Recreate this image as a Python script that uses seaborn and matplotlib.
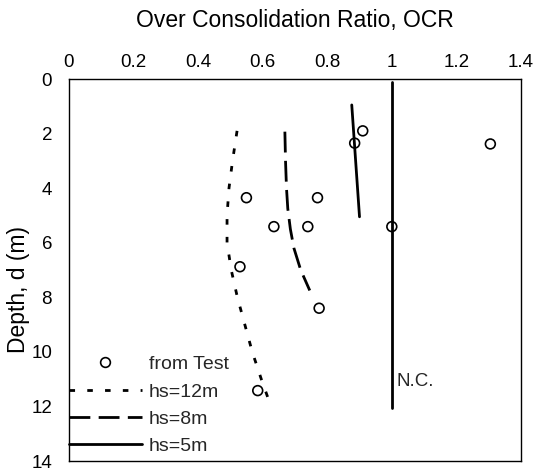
import matplotlib
matplotlib.use("Agg")
import matplotlib.pyplot as plt
import seaborn as sns
from matplotlib.lines import Line2D

# Measured OCR from tests
test_ocr = [0.91, 0.885, 1.305, 0.55, 0.77, 0.635, 0.74, 1.0, 0.53, 0.775, 0.585]
test_depth = [1.9, 2.35, 2.38, 4.35, 4.35, 5.41, 5.41, 5.41, 6.88, 8.4, 11.42]

# Predicted OCR profiles for different fill heights hs
hs12_depth = [1.9, 3.0, 4.0, 5.0, 6.0, 7.0, 8.0, 9.0, 10.0, 11.0, 12.0]
hs12_ocr = [0.521, 0.507, 0.496, 0.49, 0.49, 0.503, 0.522, 0.545, 0.568, 0.596, 0.626]

hs8_depth = [1.93, 3.0, 4.0, 4.75, 5.5, 6.2, 7.0, 7.75]
hs8_ocr = [0.669, 0.671, 0.674, 0.678, 0.686, 0.697, 0.718, 0.746]

hs5_depth = [0.95, 5.05]
hs5_ocr = [0.876, 0.90]

# Normally consolidated reference line
nc_depth = [0.1, 12.05]
nc_ocr = [1.0, 1.0]

x_ticks = [0, 0.2, 0.4, 0.6, 0.8, 1.0, 1.2, 1.4]
y_ticks = [0, 2, 4, 6, 8, 10, 12, 14]

sns.set_theme(style="white")
plt.rcParams["font.family"] = ["Liberation Sans", "DejaVu Sans"]

fig = plt.figure(figsize=(5.37, 4.72), dpi=100)
ax = fig.add_axes([0.128, 0.0233, 0.8423, 0.8093])

lw = 2.0
dot_dash = (2.0, 4.4)
long_dash = (7.5, 3.0)

sns.lineplot(x=hs12_ocr, y=hs12_depth, sort=False, orient="y", ax=ax,
             color="black", lw=lw)
ax.lines[-1].set_dashes(dot_dash)
sns.lineplot(x=hs8_ocr, y=hs8_depth, sort=False, orient="y", ax=ax,
             color="black", lw=lw)
ax.lines[-1].set_dashes(long_dash)
sns.lineplot(x=hs5_ocr, y=hs5_depth, sort=False, orient="y", ax=ax,
             color="black", lw=lw)
sns.lineplot(x=nc_ocr, y=nc_depth, sort=False, orient="y", ax=ax,
             color="black", lw=lw)
sns.scatterplot(x=test_ocr, y=test_depth, ax=ax, marker="o", s=50,
                facecolor="none", edgecolor="black", linewidth=1.2, zorder=5)

ax.text(1.013, 11.1, "N.C.", ha="left", va="center", fontsize=13.5)

ax.set_xlim(0, 1.4)
ax.set_ylim(14, 0)
ax.set_xticks(x_ticks)
ax.set_xticklabels([f"{v:g}" for v in x_ticks])
ax.set_yticks(y_ticks)
ax.set_yticklabels([str(v) for v in y_ticks])
ax.xaxis.tick_top()
ax.xaxis.set_label_position("top")
ax.tick_params(axis="x", length=0, pad=6, labelsize=13.5, colors="black")
ax.tick_params(axis="y", length=0, pad=12, labelsize=13.5, colors="black")
ax.set_xlabel("Over Consolidation Ratio, OCR", fontsize=16.5, labelpad=19,
              color="black")
ax.set_ylabel("Depth, d (m)", fontsize=16.5, color="black")
ax.yaxis.set_label_coords(-0.085, 0.448)

for sp in ax.spines.values():
    sp.set_visible(True)
    sp.set_color("black")
    sp.set_linewidth(1.0)

handles = [
    Line2D([], [], ls="none", marker="o", markersize=7, markerfacecolor="none",
           markeredgecolor="black", markeredgewidth=1.2),
    Line2D([], [], color="black", lw=lw, dashes=dot_dash),
    Line2D([], [], color="black", lw=lw, dashes=long_dash),
    Line2D([], [], color="black", lw=lw),
]
labels = ["from Test", "hs=12m", "hs=8m", "hs=5m"]
ax.legend(handles, labels, loc="lower left", bbox_to_anchor=(0.0, 0.015),
          frameon=False, fontsize=14, handlelength=3.75, handletextpad=0.36,
          labelspacing=0.5, borderaxespad=0.0, borderpad=0.0)

fig.savefig("out.png", dpi=100)
